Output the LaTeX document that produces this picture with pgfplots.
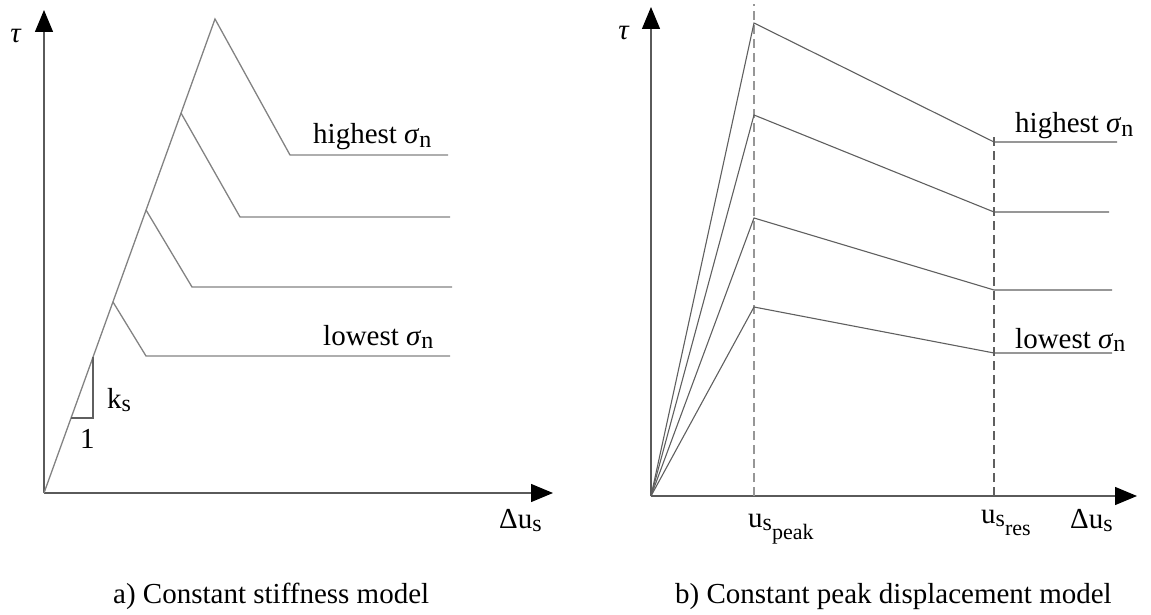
\documentclass[border=0pt]{standalone}
\usepackage{pgfplots}
\pgfplotsset{compat=1.18}
\usetikzlibrary{arrows.meta}
\usepackage{fontspec}
\setmainfont{Liberation Serif}

\definecolor{curveA}{RGB}{130,130,130}
\definecolor{curveB}{RGB}{95,95,95}
\definecolor{axisgray}{RGB}{90,90,90}
\definecolor{dashgray}{RGB}{150,150,150}

\newcommand{\lbl}{\fontsize{29}{33}\selectfont}
% lowered, slightly smaller index (s, n)
\newcommand{\sub}[1]{\raisebox{-0.12em}{\fontsize{24}{24}\selectfont #1}}
% second-level index (peak, res)
\newcommand{\subsub}[1]{\raisebox{-0.42em}{\fontsize{22}{22}\selectfont #1}}

\pgfplotsset{
  schematic/.style={
    x=1pt, y=1pt,
    xmin=0, ymin=0,
    axis lines=left,
    enlargelimits=false,
    ticks=none,
    clip=false,
    anchor=south west,
    axis line style={axisgray, line width=1.3pt,
      -{Triangle[length=22pt,width=18pt,black]}},
  },
}

\begin{document}
\begin{tikzpicture}
\useasboundingbox (0,0) rectangle (1151pt,614pt);

% ---------- a) constant stiffness ----------
\begin{axis}[schematic, at={(44pt,121pt)}, xmax=509, ymax=483]
  % elastic branch with slope k_s, up to the highest peak
  \addplot[curveA, line width=1.3pt] coordinates {(0,0) (171,474) (246,338) (404,338)};
  \addplot[curveA, line width=1.3pt] coordinates {(137,380) (196,276) (406,276)};
  \addplot[curveA, line width=1.3pt] coordinates {(102,283) (148,206) (408,206)};
  \addplot[curveA, line width=1.3pt] coordinates {(69,191) (102,137) (406,137)};
  % slope triangle
  \addplot[curveB, line width=1.1pt] coordinates {(27,75) (49,75) (49,136)};
  \node[anchor=base west, font=\lbl, inner sep=0pt] at (axis cs:63,85) {k\sub{s}};
  \node[anchor=base west, font=\lbl, inner sep=0pt] at (axis cs:36,45) {1};
  \node[font=\lbl, inner sep=0pt] at (axis cs:-28,457) {\textit{τ}};
  \node[anchor=base west, font=\lbl, inner sep=0pt] at (axis cs:269,349) {highest \textit{σ}\sub{n}};
  \node[anchor=base west, font=\lbl, inner sep=0pt] at (axis cs:279,148) {lowest \textit{σ}\sub{n}};
  \node[anchor=base west, font=\lbl, inner sep=0pt] at (axis cs:455,-35) {Δu\sub{s}};
\end{axis}

% ---------- b) constant peak displacement ----------
\begin{axis}[schematic, at={(651pt,118pt)}, xmax=486, ymax=489]
  \addplot[dashgray, line width=1.3pt, dash pattern=on 9pt off 5pt] coordinates {(103,0) (103,492)};
  \addplot[curveB, line width=1.1pt, dash pattern=on 9pt off 5pt] coordinates {(343,0) (343,363)};
  \addplot[curveB, line width=1.1pt] coordinates {(0,0) (103,473) (343,354) (466,354)};
  \addplot[curveB, line width=1.1pt] coordinates {(0,0) (103,381) (343,284) (458,284)};
  \addplot[curveB, line width=1.1pt] coordinates {(0,0) (103,278) (343,206) (461,206)};
  \addplot[curveB, line width=1.1pt] coordinates {(0,0) (103,189) (343,143) (461,143)};
  \node[font=\lbl, inner sep=0pt] at (axis cs:-27,463) {\textit{τ}};
  \node[anchor=base west, font=\lbl, inner sep=0pt] at (axis cs:364,363) {highest \textit{σ}\sub{n}};
  \node[anchor=base west, font=\lbl, inner sep=0pt] at (axis cs:364,148) {lowest \textit{σ}\sub{n}};
  \node[anchor=base west, font=\lbl, inner sep=0pt] at (axis cs:97,-31) {u\sub{s}\subsub{peak}};
  \node[anchor=base west, font=\lbl, inner sep=0pt] at (axis cs:330,-27) {u\sub{s}\subsub{res}};
  \node[anchor=base west, font=\lbl, inner sep=0pt] at (axis cs:419,-32) {Δu\sub{s}};
\end{axis}

% captions
\node[anchor=base west, font=\lbl, inner sep=0pt] at (113pt,11pt) {a) Constant stiffness model};
\node[anchor=base west, font=\lbl, inner sep=0pt] at (675pt,11pt) {b) Constant peak displacement model};
\end{tikzpicture}
\end{document}
